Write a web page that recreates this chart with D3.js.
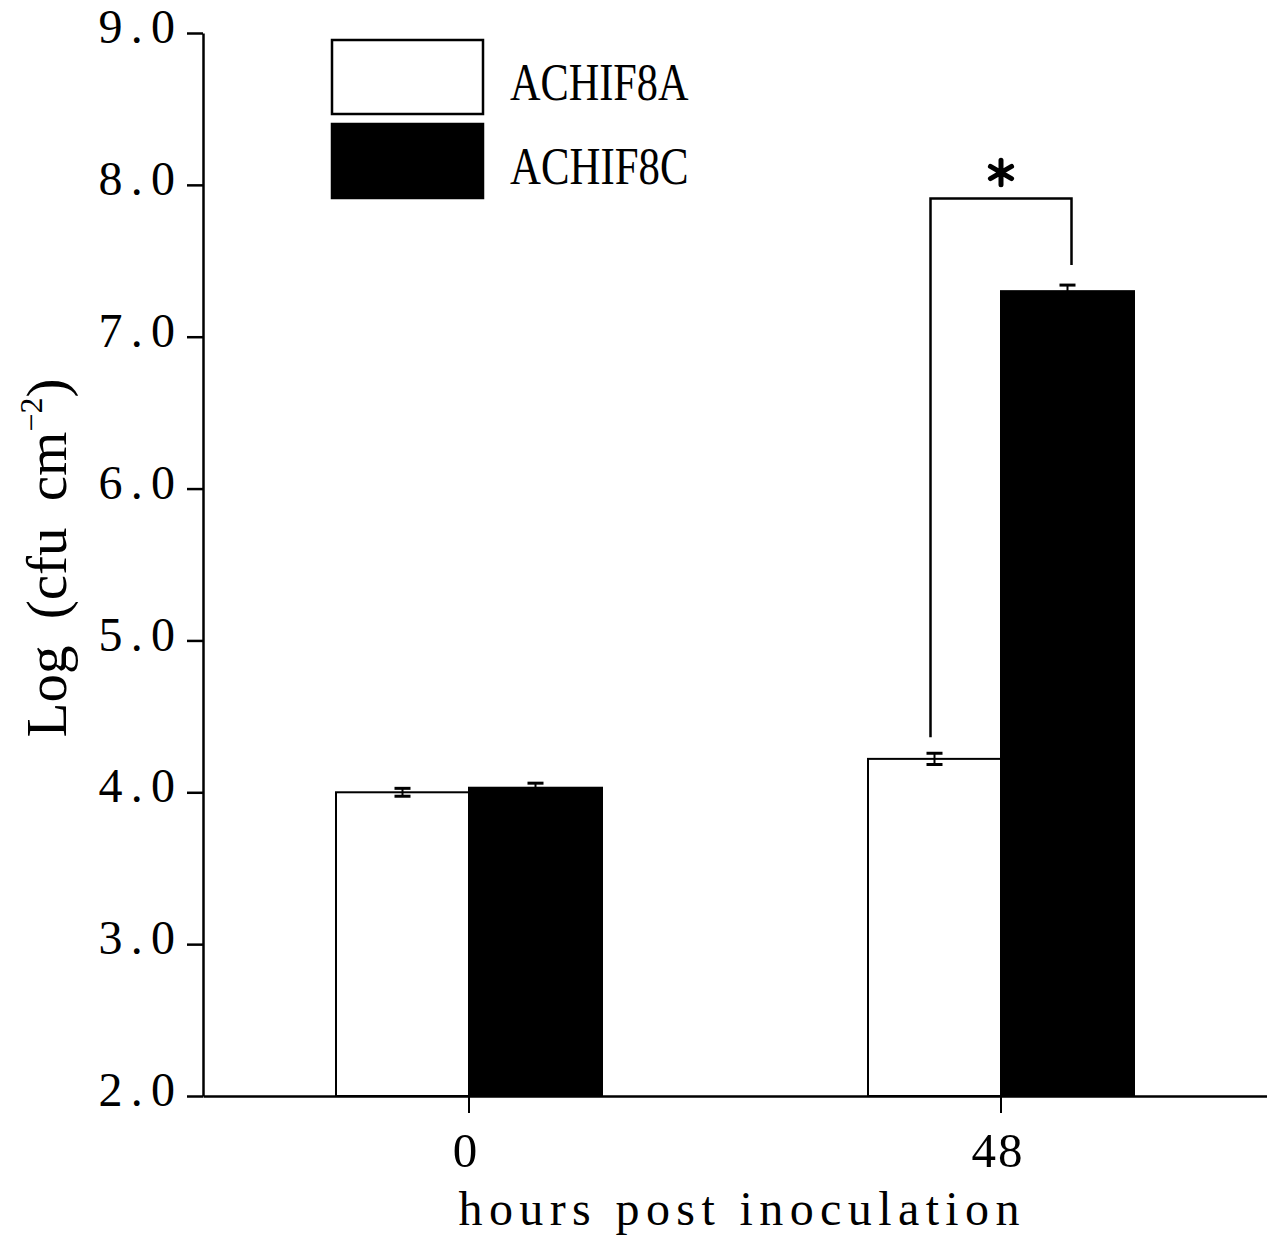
<!DOCTYPE html>
<html>
<head>
<meta charset="utf-8">
<script src="https://cdn.jsdelivr.net/npm/d3@7/dist/d3.min.js"></script>
<style>
  html, body { margin: 0; padding: 0; background: #fff; }
  svg { display: block; }
  text { font-family: "Liberation Serif", "DejaVu Serif", serif; fill: #000; }
</style>
</head>
<body>
<svg id="chart" width="1267" height="1237"></svg>
<script>
// ---- data ----
const groups = ["0", "48"];
const series = ["ACHIF8A", "ACHIF8C"];
const seriesFill = ["#ffffff", "#000000"];
const valuesA = [4.00, 4.22];
const valuesC = [4.03, 7.30];
const errorsA = [0.026, 0.037];
const errorsC = [0.030, 0.040];
const yTicks = [2, 3, 4, 5, 6, 7, 8, 9];
const yLabel = "Log (cfu cm";
const yLabelSup = "−2";
const xLabel = "hours post inoculation";
const sigGroup = "48";
const sigTopValue = 7.91;

const data = [];
groups.forEach((g, i) => {
  data.push({ group: g, series: series[0], value: valuesA[i], err: errorsA[i] });
  data.push({ group: g, series: series[1], value: valuesC[i], err: errorsC[i] });
});

// ---- layout ----
const svg = d3.select("#chart");
const pLeft = 203, pRight = 1267, pTop = 33, pBottom = 1096;
const charW = 25.5;

const x0 = d3.scaleBand().domain(groups).range([pLeft, pRight]).padding(0);
const x1 = d3.scaleBand().domain(series).range([0, x0.bandwidth() / 2]).padding(0);
const barOffset = x0.bandwidth() / 4;
const y = d3.scaleLinear().domain([2, 9]).range([pBottom, pTop]);
const fill = d3.scaleOrdinal().domain(series).range(seriesFill);

function mono(sel, n) {
  sel.each(function () {
    const t = d3.select(this);
    const len = (n != null ? n : t.text().length) * charW;
    const nat = this.getComputedTextLength();
    t.attr("textLength", len)
     .attr("lengthAdjust", nat > len ? "spacingAndGlyphs" : "spacing");
  });
}

// bars
const bars = svg.append("g");
bars.selectAll("rect").data(data).join("rect")
  .attr("x", d => x0(d.group) + barOffset + x1(d.series))
  .attr("y", d => y(d.value))
  .attr("width", x1.bandwidth())
  .attr("height", d => y(2) - y(d.value))
  .attr("fill", d => fill(d.series))
  .attr("stroke", "#000")
  .attr("stroke-width", 2);

// error bars
const capW = 8;
const eb = svg.append("g").attr("stroke", "#000");
data.forEach(d => {
  const cx = x0(d.group) + barOffset + x1(d.series) + x1.bandwidth() / 2;
  const y1 = y(d.value + d.err), y2 = y(d.value - d.err);
  eb.append("line").attr("x1", cx).attr("x2", cx).attr("y1", y1).attr("y2", y2).attr("stroke-width", 2);
  eb.append("line").attr("x1", cx - capW).attr("x2", cx + capW).attr("y1", y1).attr("y2", y1).attr("stroke-width", 3);
  eb.append("line").attr("x1", cx - capW).attr("x2", cx + capW).attr("y1", y2).attr("y2", y2).attr("stroke-width", 3);
});

// axes
const yAxis = d3.axisLeft(y).tickValues(yTicks).tickFormat(d3.format(".1f"))
  .tickSize(16).tickSizeOuter(0).tickPadding(12);
const gy = svg.append("g").attr("transform", `translate(${pLeft},0)`).call(yAxis);
gy.select(".domain").attr("stroke-width", 2.5);
gy.selectAll(".tick line").attr("stroke-width", 2.5);
gy.selectAll("text").attr("font-size", 48).attr("font-family", null).attr("dy", "0.2em");
mono(gy.selectAll("text"));

const xAxis = d3.axisBottom(x0).tickSize(17).tickSizeOuter(0);
const gx = svg.append("g").attr("transform", `translate(0,${pBottom})`).call(xAxis);
gx.select(".domain").attr("stroke-width", 2.5);
gx.selectAll(".tick line").attr("stroke-width", 2);
gx.selectAll("text").attr("font-size", 49).attr("font-family", null)
  .attr("y", 71).attr("dy", 0).attr("dx", -4);
mono(gx.selectAll("text"));

// axis titles
const xt = svg.append("text")
  .attr("x", (pLeft + pRight) / 2 + 4).attr("y", 1225)
  .attr("text-anchor", "middle").attr("font-size", 48).text(xLabel);
mono(xt);

const yt = svg.append("text")
  .attr("transform", `translate(66,558) rotate(-90)`)
  .attr("text-anchor", "middle").attr("font-size", 57)
  .attr("word-spacing", 12);
yt.append("tspan").text(yLabel);
yt.append("tspan").attr("font-size", 32).attr("dy", -24).text(yLabelSup);
yt.append("tspan").attr("dy", 24).text(")");

// legend
const legend = svg.append("g");
series.forEach((s, i) => {
  const ly = 40 + i * 84;
  legend.append("rect")
    .attr("x", 332).attr("y", ly).attr("width", 151).attr("height", 74)
    .attr("fill", fill(s)).attr("stroke", "#000").attr("stroke-width", 2.5);
  const t = legend.append("text").attr("x", 510).attr("y", ly + 60)
    .attr("font-size", 53).text(s);
  mono(t);
});

// significance bracket
const gIdx = groups.indexOf(sigGroup);
const ax = x0(sigGroup) + barOffset + x1(series[0]) + x1.bandwidth() / 2 - 4;
const cxB = x0(sigGroup) + barOffset + x1(series[1]) + x1.bandwidth() / 2 + 4;
const yTopB = y(sigTopValue);
const yLeftEnd = y(valuesA[gIdx] + errorsA[gIdx]) - 16;
const yRightEnd = y(valuesC[gIdx] + errorsC[gIdx]) - 20;
svg.append("path")
  .attr("d", `M${ax},${yLeftEnd}V${yTopB}H${cxB}V${yRightEnd}`)
  .attr("fill", "none").attr("stroke", "#000").attr("stroke-width", 2.5);
svg.append("path")
  .attr("d", d3.symbol(d3.symbolAsterisk, 420)())
  .attr("transform", `translate(${(ax + cxB) / 2},${yTopB - 26})`)
  .attr("fill", "none").attr("stroke", "#000").attr("stroke-width", 5)
  .attr("stroke-linecap", "round");
</script>
</body>
</html>
